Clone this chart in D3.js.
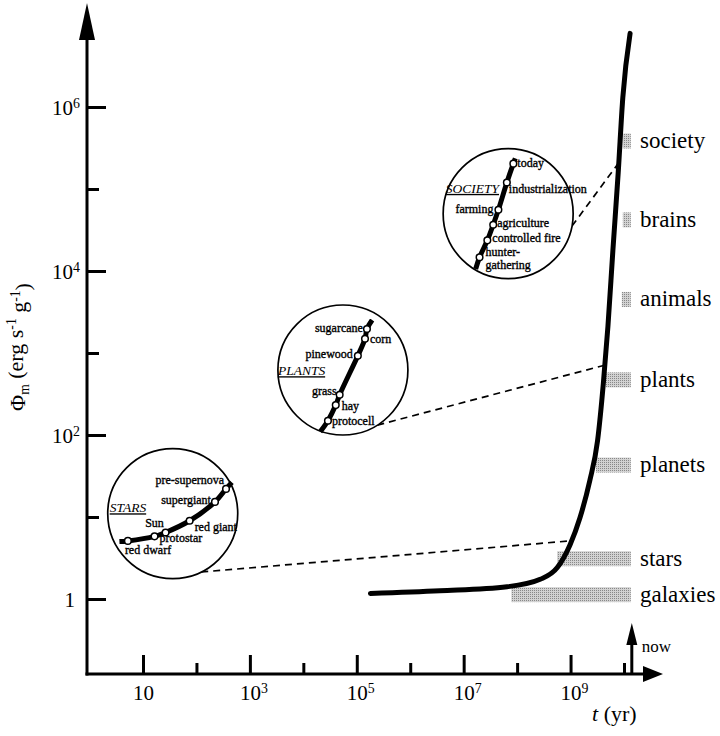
<!DOCTYPE html>
<html>
<head>
<meta charset="utf-8">
<script src="https://cdn.jsdelivr.net/npm/d3@7"></script>
<style>
body { margin: 0; background: #fff; }
svg text { font-family: "Liberation Serif", "Times New Roman", serif; fill: #000; }
</style>
</head>
<body>
<div id="chart"></div>
<script>
// ---- data ----
// main curve: specific free energy rate vs cosmic time
const curveT   = [1.8e5, 3.6e6, 6.5e7, 2.7e8, 5.6e8, 9.8e8, 1.5e9, 2.3e9, 3.2e9, 4.1e9, 5.0e9, 6.2e9, 7.8e9, 9.5e9, 1.3e10];
const curvePhi = [1.17, 1.26, 1.41, 1.74, 2.4, 4.6, 9.8, 28, 85, 420, 2100, 18000, 160000, 1.3e6, 7.9e6];

// grey bands on the right: level of Φm and the time each system appeared
const bandNames = ["galaxies", "stars", "planets", "plants", "animals", "brains", "society"];
const bandPhi   = [1.13, 3.1, 43, 470, 4500, 42000, 385000];
const bandStart = [7.8e7, 5.6e8, 3.0e9, 4.6e9, 9.1e9, 9.5e9, 9.5e9];
const now = 1.4e10;

// axis ticks
const xMajor = [10, 1e3, 1e5, 1e7, 1e9];
const xMinor = [1e2, 1e4, 1e6, 1e8, 1e10];
const yMajor = [1, 1e2, 1e4, 1e6];
const yMinor = [10, 1e3, 1e5];

// insets: where they sit on the main axes (t, Φ)
const insetTitles = ["STARS", "PLANTS", "SOCIETY"];
const insetT   = [36, 5.5e4, 6.8e7];
const insetPhi = [11, 620, 5.0e4];
// Φ where the dashed leader meets the main curve
const leaderPhi = [5.1, 710, 2.1e5];

// inset tracks, in each inset's own units (-1..1 across the circle)
const starsStages = ["red dwarf", "Sun", "protostar", "red giant", "supergiant", "pre-supernova"];
const starsU = [-0.82, -0.69, -0.28, -0.11, 0.26, 0.65, 0.82, 0.91];
const starsV = [-0.43, -0.42, -0.35, -0.29, -0.11, 0.18, 0.38, 0.48];

const plantsStages = ["protocell", "hay", "grass", "pinewood", "corn", "sugarcane"];
const plantsU = [-0.35, -0.23, -0.11, -0.05, 0.23, 0.34, 0.37, 0.45];
const plantsV = [-0.95, -0.78, -0.54, -0.38, 0.22, 0.48, 0.63, 0.77];

const societyStages = ["hunter-gathering", "controlled fire", "agriculture", "farming", "industrialization", "today"];
const societyU = [-0.50, -0.44, -0.32, -0.23, -0.15, -0.02, 0.08, 0.11];
const societyV = [-0.85, -0.67, -0.41, -0.17, 0.06, 0.48, 0.77, 0.85];

// ---- layout ----
const W = 720, H = 736;
const axisLeft = 87, axisBottom = 674;
const R = 65;

// label placement for stage names: [dx, dy, anchor] from the marker
const stageLabelPos = {
  "red dwarf": [-3, 13, "start"], "Sun": [0, -9, "middle"], "protostar": [-6, 10, "start"],
  "red giant": [5, 10, "start"], "supergiant": [-4, 2, "end"], "pre-supernova": [-2, -5, "end"],
  "protocell": [4, 4, "start"], "hay": [6, 5, "start"], "grass": [-3, 0, "end"],
  "pinewood": [-5, 2, "end"], "corn": [5, 4, "start"], "sugarcane": [-4, 3, "end"],
  "hunter-gathering": [6, -1, "start"], "controlled fire": [5, 2, "start"], "agriculture": [4, 2, "start"],
  "farming": [-5, 3, "end"], "industrialization": [2, 11, "start"], "today": [4, 3, "start"]
};
// inset title positions (inset units) and leader start angle (deg, clockwise from right)
const titlePos = [[-0.97, 0.02], [-1.0, -0.08], [-0.96, 0.32]];
const leaderAngle = [64, 58, 11];

const svg = d3.select("#chart").append("svg")
    .attr("width", W)
    .attr("height", H);

const defs = svg.append("defs");
const pat = defs.append("pattern")
    .attr("id", "stipple")
    .attr("width", 2).attr("height", 2)
    .attr("patternUnits", "userSpaceOnUse");
pat.append("rect").attr("width", 2).attr("height", 2).attr("fill", "#d2d2d2");
pat.append("rect").attr("width", 1).attr("height", 1).attr("fill", "#888");

const x = d3.scaleLog().domain([10, 1e10]).range([143, 624]);
const y = d3.scaleLog().domain([1, 1e6]).range([599, 107]);

// labels like 10^n
function powLabel(text) {
    text.each(function(d) {
        const e = Math.round(Math.log10(d));
        const t = d3.select(this).text(null);
        if (e === 0) { t.text("1"); return; }
        t.append("tspan").text("10");
        if (e !== 1) {
            t.append("tspan").attr("dy", "-0.48em").attr("font-size", "0.66em").text(e);
        }
    });
}

// ---- y axis ----
const gy = svg.append("g").attr("transform", `translate(${axisLeft},0)`);
gy.call(d3.axisLeft(y).tickValues(yMajor).tickSize(-19).tickPadding(7));
gy.call(g => g.select(".domain").remove());
gy.selectAll(".tick line").attr("stroke-width", 3);
gy.selectAll(".tick text")
    .style("font-size", "21px")
    .attr("dy", "0.36em")
    .attr("x", d => d === 1 ? -12 : -7)
    .call(powLabel);

const gy2 = svg.append("g").attr("transform", `translate(${axisLeft},0)`);
gy2.call(d3.axisLeft(y).tickValues(yMinor).tickSize(-12).tickFormat(""));
gy2.call(g => g.select(".domain").remove());
gy2.selectAll(".tick line").attr("stroke-width", 3);

// ---- x axis ----
const gx = svg.append("g").attr("transform", `translate(0,${axisBottom})`);
gx.call(d3.axisBottom(x).tickValues(xMajor).tickSize(-19).tickPadding(11));
gx.call(g => g.select(".domain").remove());
gx.selectAll(".tick line").attr("stroke-width", 3);
gx.selectAll(".tick text")
    .style("font-size", "21px")
    .attr("text-anchor", "start")
    .attr("x", -10.5)
    .call(powLabel);

const gx2 = svg.append("g").attr("transform", `translate(0,${axisBottom})`);
gx2.call(d3.axisBottom(x).tickValues(xMinor).tickSize(-11).tickFormat(""));
gx2.call(g => g.select(".domain").remove());
gx2.selectAll(".tick line").attr("stroke-width", 3);

// axis lines with arrows
svg.append("line")
    .attr("x1", axisLeft).attr("y1", axisBottom + 1.5)
    .attr("x2", axisLeft).attr("y2", 38)
    .attr("stroke", "#000").attr("stroke-width", 3);
svg.append("path")
    .attr("d", `M${axisLeft},3 L${axisLeft - 8},40 L${axisLeft + 8},40 Z`)
    .attr("fill", "#000");
svg.append("line")
    .attr("x1", axisLeft - 1.5).attr("y1", axisBottom)
    .attr("x2", 645).attr("y2", axisBottom)
    .attr("stroke", "#000").attr("stroke-width", 3);
svg.append("path")
    .attr("d", `M663,${axisBottom} L643,${axisBottom - 8} L643,${axisBottom + 8} Z`)
    .attr("fill", "#000");

// "now" marker
const nx = x(now);
svg.append("line")
    .attr("x1", nx).attr("y1", axisBottom)
    .attr("x2", nx).attr("y2", 640)
    .attr("stroke", "#000").attr("stroke-width", 3);
svg.append("path")
    .attr("d", `M${nx},623 L${nx - 5.5},645 L${nx + 5.5},645 Z`)
    .attr("fill", "#000");
svg.append("text")
    .attr("x", nx + 10).attr("y", 652)
    .style("font-size", "17px")
    .text("now");

// axis titles
svg.append("text")
    .attr("x", 592).attr("y", 721)
    .style("font-size", "22px")
    .call(t => {
        t.append("tspan").style("font-style", "italic").text("t");
        t.append("tspan").text(" (yr)");
    });

svg.append("text")
    .attr("transform", "translate(25,347) rotate(-90)")
    .attr("text-anchor", "middle")
    .style("font-size", "22px")
    .call(t => {
        t.append("tspan").text("Φ");
        t.append("tspan").attr("dy", "0.3em").attr("font-size", "0.62em").text("m");
        t.append("tspan").attr("dy", "-0.3em").text(" (erg s");
        t.append("tspan").attr("dy", "-0.45em").attr("font-size", "0.62em").text("-1");
        t.append("tspan").attr("dy", "0.45em").text(" g");
        t.append("tspan").attr("dy", "-0.45em").attr("font-size", "0.62em").text("-1");
        t.append("tspan").attr("dy", "0.45em").text(")");
    });

// ---- grey bands ----
const bands = bandNames.map((n, i) => ({name: n, phi: bandPhi[i], t0: bandStart[i]}));
svg.append("g").selectAll("rect")
    .data(bands)
    .join("rect")
    .attr("x", d => x(d.t0))
    .attr("y", d => y(d.phi) - 7.5)
    .attr("width", d => x(now) - 1 - x(d.t0))
    .attr("height", 15)
    .attr("fill", "url(#stipple)");

svg.append("g").selectAll("text")
    .data(bands)
    .join("text")
    .attr("x", 640)
    .attr("y", d => y(d.phi) + 7)
    .style("font-size", "23px")
    .text(d => d.name);

// ---- main curve ----
const curvePts = curveT.map((t, i) => [x(t), y(curvePhi[i])]);
const mainPath = svg.append("path")
    .attr("d", d3.line().curve(d3.curveMonotoneX)(curvePts))
    .attr("fill", "none")
    .attr("stroke", "#000")
    .attr("stroke-width", 5)
    .attr("stroke-linecap", "round");

// point on the main curve at a given Φ
function onCurve(phi) {
    const node = mainPath.node();
    const len = node.getTotalLength();
    const ty = y(phi);
    let best = null, bd = Infinity;
    for (let s = 0; s <= len; s += 0.5) {
        const p = node.getPointAtLength(s);
        const dd = Math.abs(p.y - ty);
        if (dd < bd) { bd = dd; best = p; }
    }
    return best;
}

// ---- insets ----
const insetData = [
    {stages: starsStages, u: starsU, v: starsV},
    {stages: plantsStages, u: plantsU, v: plantsV},
    {stages: societyStages, u: societyU, v: societyV}
];

insetData.forEach((ins, k) => {
    const cx = x(insetT[k]), cy = y(insetPhi[k]);
    const lu = d3.scaleLinear().domain([-1, 1]).range([cx - R, cx + R]);
    const lv = d3.scaleLinear().domain([-1, 1]).range([cy + R, cy - R]);

    // dashed leader to the main curve
    const a = leaderAngle[k] * Math.PI / 180;
    const target = onCurve(leaderPhi[k]);
    svg.append("line")
        .attr("x1", cx + R * Math.cos(a)).attr("y1", cy + R * Math.sin(a))
        .attr("x2", target.x).attr("y2", target.y)
        .attr("stroke", "#000")
        .attr("stroke-width", 1.7)
        .attr("stroke-dasharray", "7,5");

    const g = svg.append("g");
    g.append("circle")
        .attr("cx", cx).attr("cy", cy).attr("r", R)
        .attr("fill", "#fff")
        .attr("stroke", "#000")
        .attr("stroke-width", 1.7);

    const track = ins.u.map((u, i) => [lu(u), lv(ins.v[i])]);
    g.append("path")
        .attr("d", d3.line().curve(d3.curveCatmullRom)(track))
        .attr("fill", "none")
        .attr("stroke", "#000")
        .attr("stroke-width", 5);

    const marks = ins.stages.map((s, i) => ({name: s, px: track[i + 1][0], py: track[i + 1][1]}));
    g.selectAll("circle.m")
        .data(marks)
        .join("circle")
        .attr("class", "m")
        .attr("cx", d => d.px).attr("cy", d => d.py)
        .attr("r", 3.3)
        .attr("fill", "#fff")
        .attr("stroke", "#000")
        .attr("stroke-width", 1.5);

    g.selectAll("text.s")
        .data(marks)
        .join("text")
        .attr("class", "s")
        .attr("x", d => d.px + stageLabelPos[d.name][0])
        .attr("y", d => d.py + stageLabelPos[d.name][1])
        .attr("text-anchor", d => stageLabelPos[d.name][2])
        .style("font-size", "12px")
        .style("stroke", "#000")
        .style("stroke-width", 0.35)
        .each(function(d) {
            const t = d3.select(this);
            if (d.name === "hunter-gathering") {
                t.append("tspan").text("hunter-");
                t.append("tspan").attr("x", d.px + stageLabelPos[d.name][0]).attr("dy", 13).text("gathering");
            } else {
                t.text(d.name);
            }
        });

    g.append("text")
        .attr("x", lu(titlePos[k][0]))
        .attr("y", lv(titlePos[k][1]))
        .style("font-size", "13.5px")
        .style("font-style", "italic")
        .style("text-decoration", "underline")
        .text(insetTitles[k]);
});
</script>
</body>
</html>
